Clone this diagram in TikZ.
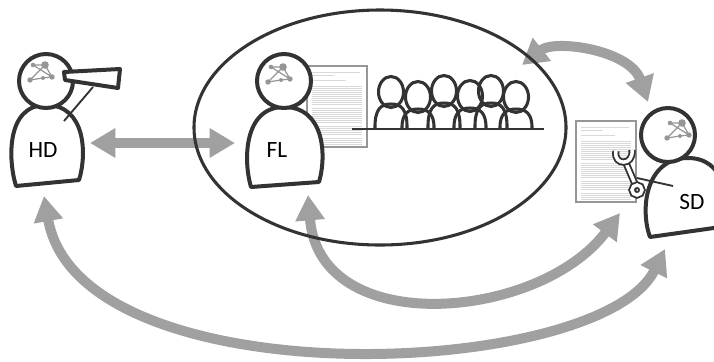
\documentclass[tikz,border=0pt]{standalone}
\usepackage{fontspec}
\setmainfont{Carlito}
\usetikzlibrary{arrows.meta}

\definecolor{figdark}{RGB}{51,51,51}
\definecolor{arrowgray}{RGB}{160,160,160}
\definecolor{netgray}{RGB}{150,150,150}
\definecolor{docgray}{RGB}{150,150,150}

\tikzset{
  % small network drawn inside a head, origin at the big node
  brain/.pic={
    \draw[netgray, line width=0.9pt] (-12,0) -- (0,0) -- (7,12) -- (-2,13) -- (-15,15) -- (0,0)
          (-12,0) -- (7,12);
    \fill[netgray] (0,0) circle (3.8) (-12,0) circle (2.3) (7,12) circle (2.7)
          (-2,13) circle (2) (-15,15) circle (2.7);
  },
  % printed page, origin at the top left corner
  paper/.pic={
    \draw[docgray, fill=white, line width=0.8pt] (0,0) rectangle (60,81);
    \draw[textline] (5,6) -- ++(48,0) (5,9) -- ++(22,0) (5,14) -- ++(34,0);
    \foreach \s/\n in {20/10, 42/8, 60/5, 72/4}
      \foreach \k in {1,...,\n}
        \draw[textline] (5,{\s+2*\k-2}) -- ++(50,0);
  },
}

\begin{document}
\begin{tikzpicture}[
  x=0.75pt, y=-0.75pt,
  fig/.style={draw=figdark, line width=3pt, fill=white, line join=round},
  crowd/.style={draw=figdark, line width=2.3pt},
  arm/.style={draw=figdark, line width=1.4pt},
  textline/.style={draw=gray!30, line width=0.45pt},
  tag/.style={font=\fontsize{17.5}{20}\selectfont, text=black, inner sep=0pt},
  link/.style={{Triangle[length=19pt,width=21pt]}-{Triangle[length=19pt,width=21pt]},
               draw=arrowgray, line width=7.5pt},
  wrench/.style={draw=figdark, double=white, double distance=2.6pt, line width=1.4pt},
]
\useasboundingbox (0,0) rectangle (714,361);

% Arrow end points
\coordinate (hd-east)  at (90,143);
\coordinate (fl-west)  at (235,143);
\coordinate (room-ne)  at (522,65);
\coordinate (sd-north) at (648,102);
\coordinate (fl-south) at (308,195);
\coordinate (sd-west)  at (620,213);
\coordinate (hd-south) at (44,196);
\coordinate (sd-south) at (665,249);

% Exchanges
\draw[link] (hd-east) -- (fl-west);
\draw[link] (room-ne) .. controls +(33,-26) and +(-18,-52) .. (sd-north);
\draw[link] (fl-south) .. controls +(12,145) and +(-80,107) .. (sd-west);
\draw[link] (hd-south) .. controls +(36,204) and +(-65,131) .. (sd-south);

% Meeting room
\draw[draw=figdark, line width=2.3pt] (380,127.5) ellipse [x radius=186, y radius=117.5];

% HD with telescope
\draw[fig] (16,186) .. controls (8,160) and (6,105) .. (46,105)
      .. controls (86,105) and (87,155) .. (79,180) -- cycle;
\draw[arm] (93,87) -- (64,121);
\draw[fig] (46,81) circle (27);
\pic at (45,65) {brain};
\draw[fig] (64,72) -- (120,69) -- (118,88) -- (65,80) -- cycle;
\node[tag] (hd) at (43,150) {HD};

% FL presenting
\pic at (307,66) {paper};
\draw[fig] (251,187) .. controls (243,160) and (244,107) .. (284,107)
      .. controls (324,107) and (327,155) .. (319,182) -- cycle;
\draw[fig] (284,81) circle (27);
\pic at (283,67) {brain};
\node[tag] (fl) at (277,150) {FL};

% Audience
\draw[draw=figdark, line width=1.3pt] (352,129) -- (544,129);
\foreach \cx/\hy in {391/92, 418/97, 444/91, 470/96, 491/91, 516/97} {
  \draw[crowd] ({\cx-16},129) .. controls ({\cx-16.5},{\hy+17}) and ({\cx-10},{\hy+12}) .. (\cx,{\hy+12})
        .. controls ({\cx+10},{\hy+12}) and ({\cx+16.5},{\hy+17}) .. ({\cx+16},129);
  \draw[crowd] (\cx,\hy) ellipse [x radius=12.5, y radius=15.5];
}

% SD with spanner
\pic at (576,121) {paper};
\draw[fig] (650,237) .. controls (640,210) and (645,158) .. (688,158)
      .. controls (725,158) and (730,200) .. (728,226) -- cycle;
\draw[fig] (668,135) circle (27);
\pic at (682,123) {brain};
\draw[arm] (637,178) -- (673,186);
\draw[wrench] (626,163) -- (635,184);
\draw[wrench] (616,151) .. controls (613,166) and (634,166) .. (632,150);
\draw[wrench] (637,190) circle (5);
\node[tag] (sd) at (692,202) {SD};
\end{tikzpicture}
\end{document}
